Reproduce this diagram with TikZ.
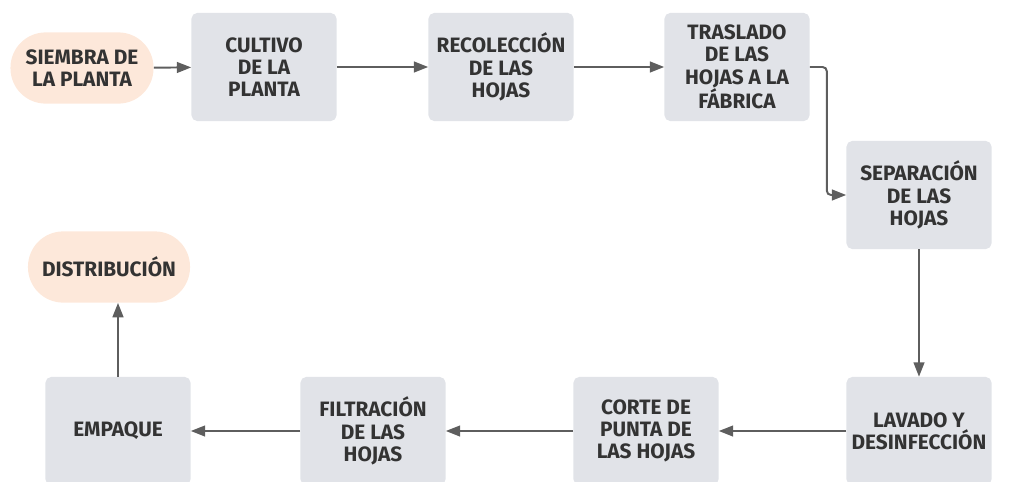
\documentclass[tikz,border=0pt]{standalone}
\usepackage{fontspec}
\setmainfont{Fira Sans}
\usepackage{tikz}
\usetikzlibrary{arrows.meta,calc}
\definecolor{cajagris}{HTML}{E1E3E8}
\definecolor{inicio}{HTML}{FDE8DA}
\definecolor{flechagris}{HTML}{5E5E5E}
\definecolor{texto}{HTML}{333333}

\begin{document}
\begin{tikzpicture}[x=0.025cm,y=-0.025cm,
  paso/.style={fill=cajagris, rounded corners=4pt, minimum width=3.625cm,
    minimum height=2.7cm, align=center, text=texto, inner xsep=1pt,
    font=\fontsize{14.8}{15.9}\selectfont\bfseries},
  extremo/.style={paso, fill=inicio, rounded corners=0.88cm,
    minimum height=1.78cm},
  flecha/.style={draw=flechagris, line width=1.4pt,
    -{Triangle[length=0.36cm, width=0.27cm]}}]
  \clip(0,0) rectangle (1011,481);
  \useasboundingbox(0,0) rectangle (1011,481);
  % fila superior
  \node[extremo, minimum width=3.575cm](siembra) at (82,68) {SIEMBRA DE\\LA PLANTA};
  \node[paso](cultivo) at (264,67) {CULTIVO\\DE LA\\PLANTA};
  \node[paso](recoleccion) at (501,67) {RECOLECCIÓN\\DE LAS\\HOJAS};
  \node[paso](traslado) at (737,67) {TRASLADO\\DE LAS\\HOJAS A LA\\FÁBRICA};
  \node[paso](separacion) at (919,195) {SEPARACIÓN\\DE LAS\\HOJAS};
  % fila inferior
  \node[paso](lavado) at (919,431) {LAVADO Y\\DESINFECCIÓN};
  \node[paso](corte) at (646,431) {CORTE DE\\PUNTA DE\\LAS HOJAS};
  \node[paso](filtracion) at (373,431) {FILTRACIÓN\\DE LAS\\HOJAS};
  \node[paso](empaque) at (118,431) {EMPAQUE};
  \node[extremo, minimum width=4.05cm](distribucion) at (109,267) {DISTRIBUCIÓN};
  \coordinate(codo) at ($(traslado.east)+(17,0)$);
  \draw[flecha](siembra)--(cultivo);
  \draw[flecha](cultivo)--(recoleccion);
  \draw[flecha](recoleccion)--(traslado);
  \draw[flecha, rounded corners=3pt](traslado.east)--(codo)|-(separacion.west);
  \draw[flecha](separacion)--(lavado);
  \draw[flecha](lavado)--(corte);
  \draw[flecha](corte)--(filtracion);
  \draw[flecha](filtracion)--(empaque);
  \draw[flecha](empaque.north)--(empaque.north|-distribucion.south);
\end{tikzpicture}
\end{document}
